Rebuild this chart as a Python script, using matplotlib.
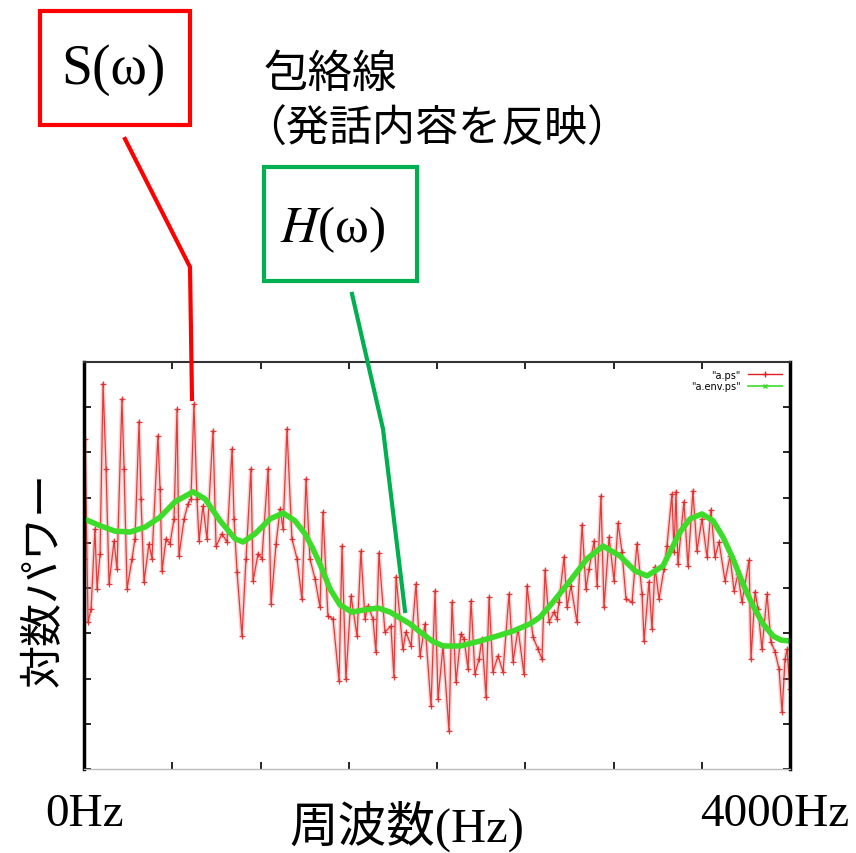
import matplotlib.pyplot as plt
from matplotlib.lines import Line2D
from matplotlib.patches import Rectangle

plt.rcParams['font.family'] = ['Liberation Serif', 'Noto Sans CJK JP']
plt.rcParams['mathtext.fontset'] = 'stix'

# log power spectrum "a.ps" (Hz, dB)
ps_freq = [0, 6, 23, 40, 62, 74, 91, 108, 125, 142, 170, 187, 215, 227, 244, 272, 289, 312,
           323, 340, 368, 385, 419, 431, 442, 465, 487, 510, 527, 538, 567, 589, 606, 623,
           640, 652, 674, 697, 731, 748, 782, 810, 839, 850, 867, 895, 918, 946, 958, 986,
           1008, 1043, 1060, 1088, 1111, 1128, 1150, 1178, 1207, 1235, 1258, 1280, 1309,
           1337, 1354, 1382, 1411, 1445, 1462, 1484, 1513, 1547, 1569, 1592, 1609, 1637,
           1654, 1671, 1705, 1739, 1756, 1768, 1807, 1824, 1853, 1881, 1904, 1932, 1966,
           1989, 2006, 2034, 2068, 2085, 2108, 2136, 2153, 2176, 2193, 2215, 2238, 2255,
           2278, 2295, 2317, 2346, 2374, 2408, 2431, 2459, 2493, 2510, 2544, 2572, 2595,
           2612, 2635, 2663, 2680, 2691, 2720, 2737, 2759, 2793, 2822, 2844, 2861, 2890,
           2907, 2929, 2946, 2975, 3003, 3026, 3048, 3071, 3105, 3133, 3162, 3173, 3201,
           3218, 3235, 3258, 3286, 3303, 3331, 3343, 3354, 3365, 3399, 3422, 3450, 3473,
           3501, 3530, 3552, 3575, 3598, 3632, 3660, 3683, 3705, 3728, 3768, 3779, 3802,
           3819, 3841, 3870, 3892, 3915, 3938, 3955, 3972, 3983, 4000]
ps_level = [46.5, 73.0, 32.5, 35.4, 53.1, 39.8, 47.6, 85.2, 66.4, 40.9, 50.4, 44.2, 81.8,
            66.4, 39.8, 46.5, 50.9, 76.8, 59.7, 41.4, 49.8, 46.5, 73.7, 61.9, 43.8, 50.9,
            49.8, 55.3, 79.6, 47.1, 55.3, 58.6, 59.7, 80.7, 59.7, 50.4, 58.2, 50.9, 74.8,
            49.3, 52.0, 50.2, 70.8, 55.3, 43.6, 29.4, 46.5, 66.4, 41.6, 47.6, 46.5, 66.4,
            36.5, 49.8, 57.5, 53.1, 75.2, 50.9, 46.5, 37.6, 64.1, 46.5, 42.0, 35.8, 56.8,
            33.8, 33.2, 19.5, 49.3, 19.9, 38.3, 29.4, 48.2, 33.2, 36.1, 33.2, 25.9, 47.8,
            30.3, 31.6, 20.4, 42.5, 26.5, 30.3, 27.2, 40.9, 25.0, 32.1, 13.9, 39.4, 15.5,
            27.2, 8.4, 36.9, 19.2, 29.9, 28.8, 22.1, 37.2, 21.0, 24.3, 28.8, 15.9, 38.0,
            21.5, 25.0, 21.5, 38.7, 23.7, 31.0, 21.0, 40.5, 29.2, 26.5, 24.3, 44.0, 32.5,
            34.7, 33.2, 36.9, 46.9, 35.8, 40.5, 32.5, 54.0, 39.8, 44.2, 50.4, 40.5, 60.4,
            35.8, 51.3, 41.6, 54.4, 48.0, 37.6, 36.9, 49.8, 38.7, 28.3, 41.4, 31.0, 44.7,
            37.6, 44.2, 49.3, 60.8, 48.0, 61.3, 45.3, 59.1, 44.9, 61.5, 48.2, 55.3, 46.9,
            57.3, 46.9, 50.2, 41.6, 47.1, 39.4, 43.1, 36.9, 46.2, 24.3, 39.2, 35.4, 26.5,
            38.7, 28.1, 25.9, 22.1, 12.6, 24.3, 26.5, 17.7]

# spectral envelope "a.env.ps"
env_freq = [0, 91, 176, 261, 346, 431, 516, 618, 686, 771, 856, 901, 969, 1054, 1128, 1195,
            1252, 1297, 1337, 1394, 1450, 1518, 1592, 1666, 1734, 1790, 1847, 1904, 1972,
            2034, 2130, 2244, 2357, 2431, 2527, 2584, 2657, 2754, 2850, 2941, 3037, 3122,
            3190, 3280, 3320, 3377, 3433, 3501, 3564, 3620, 3677, 3734, 3790, 3847, 3904,
            3949, 4000]
env_level = [55.3, 53.8, 52.6, 52.4, 53.5, 55.7, 59.1, 61.3, 59.7, 54.9, 50.9, 50.2, 52.0,
             55.3, 56.6, 54.9, 52.0, 48.7, 45.3, 39.8, 36.3, 34.7, 35.2, 35.6, 34.7, 33.4,
             32.1, 30.3, 28.3, 27.2, 27.2, 28.3, 29.6, 30.5, 32.1, 33.6, 36.9, 41.6, 46.5,
             49.3, 47.1, 43.8, 42.7, 44.9, 48.0, 52.4, 55.3, 56.4, 54.9, 51.3, 46.5, 40.9,
             36.1, 32.1, 29.4, 28.5, 28.3]

W, H = 856, 854
fig = plt.figure(figsize=(W / 100, H / 100), dpi=100)
ax = fig.add_axes([84 / W, 1 - 770 / H, 706 / W, 407 / H])

ax.plot(ps_freq, ps_level, color='#f08080', lw=3, alpha=0.35)
ax.plot(ps_freq, ps_level, color='#dd2222', lw=0.9, alpha=0.85, marker='+', ms=5, mew=0.9)
ax.plot(env_freq, env_level, color='#3ddc2a', lw=4)

ax.set_xlim(0, 4000)
ax.set_ylim(0, 90)
ax.set_xticks(range(0, 4001, 500))
ax.set_yticks(range(0, 91, 10))
ax.tick_params(direction='in', length=5, width=1.2, top=True, right=True,
               labelbottom=False, labelleft=False)
for side in ['left', 'right']:
    ax.spines[side].set_linewidth(2.5)
ax.spines['top'].set_linewidth(1.5)
ax.spines['top'].set_color('#333333')
ax.spines['bottom'].set_color('#bbbbbb')
ax.spines['bottom'].set_linewidth(1)

handles = [Line2D([], [], color='#dd2222', lw=1, marker='+', ms=5, markevery=[1],
                  label='"a.ps"'),
           Line2D([], [], color='#3ddc2a', lw=1.2, marker='x', ms=3, markevery=[1],
                  label='"a.env.ps"')]
ax.legend(handles=handles, loc='upper right', frameon=False, markerfirst=False,
          handlelength=3.5, borderaxespad=0.4, labelspacing=0.15,
          prop={'family': 'DejaVu Sans', 'size': 7})

# axis texts
fig.text(85 / W, 1 - 815 / H, '0Hz', fontsize=34, ha='center', va='center')
fig.text(775 / W, 1 - 815 / H, '4000Hz', fontsize=34, ha='center', va='center')
fig.text(407 / W, 1 - 826 / H, '周波数(Hz)', fontsize=35, ha='center', va='center')
fig.text(45 / W, 1 - 580 / H, '対数パワー', fontsize=31, rotation=90,
         ha='center', va='center')


def px(x, y):
    return x / W, 1 - y / H


# callout boxes and leader lines
fig.add_artist(Rectangle(px(40, 126), 150 / W, 114 / H, transform=fig.transFigure,
                         fill=False, edgecolor='#ff0000', lw=3))
fig.text(*px(113, 70), 'S(ω)', fontsize=40, ha='center', va='center')
xs, ys = zip(px(125, 140), px(190, 268), px(192, 400))
fig.add_artist(Line2D(xs, ys, transform=fig.transFigure, color='#ff0000', lw=3))

fig.add_artist(Rectangle(px(264, 282), 153 / W, 114 / H, transform=fig.transFigure,
                         fill=False, edgecolor='#00b050', lw=3))
fig.text(*px(333, 230), '$H$(ω)', fontsize=37, ha='center', va='center')
xs, ys = zip(px(352, 295), px(383, 430), px(405, 612))
fig.add_artist(Line2D(xs, ys, transform=fig.transFigure, color='#00b050', lw=3))

fig.text(*px(264, 75), '包絡線', fontsize=32, ha='left', va='center')
fig.text(*px(243, 130), '（発話内容を反映）', fontsize=31, ha='left', va='center')

fig.savefig('out.png', dpi=100)
